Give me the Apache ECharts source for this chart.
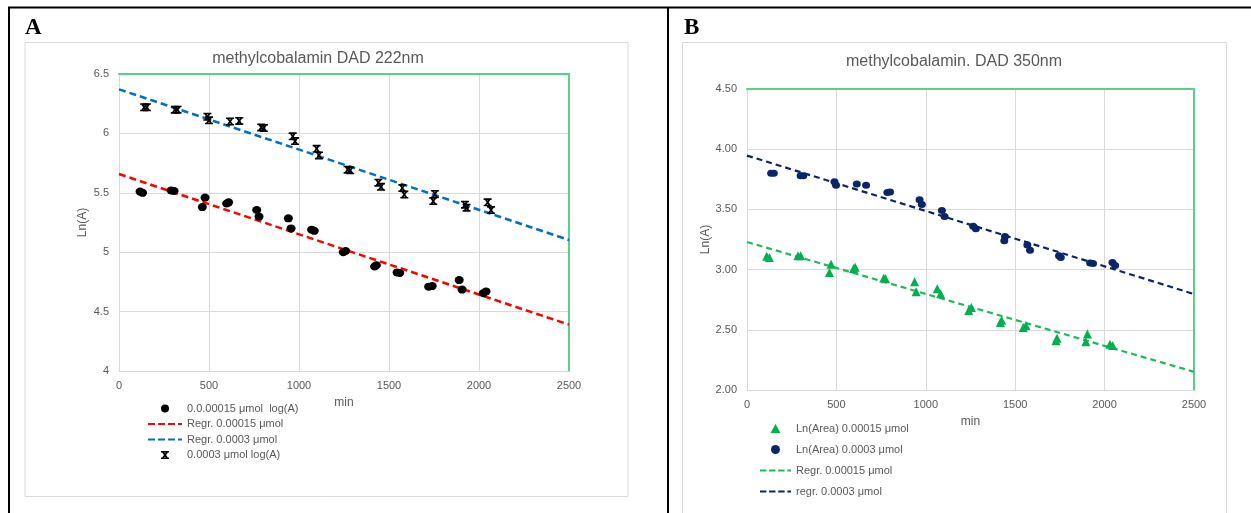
<!DOCTYPE html>
<html>
<head>
<meta charset="utf-8">
<title>methylcobalamin</title>
<script src="https://cdn.jsdelivr.net/npm/echarts@6/dist/echarts.min.js"></script>
<style>
  html, body { margin: 0; padding: 0; background: #fff; }
  #chart { width: 1251px; height: 513px; }
</style>
</head>
<body>
<div id="chart"></div>
<script>
// ---- Panel A: DAD 222 nm ----
const titleA = 'methylcobalamin DAD 222nm';
const legendA = ['0.0.00015 μmol  log(A)', 'Regr. 0.00015 μmol', 'Regr. 0.0003 μmol', '0.0003 μmol log(A)'];
const dotsA015 = [
  [117, 5.51], [131, 5.50], [290, 5.52], [306, 5.515], [478, 5.46], [463, 5.38],
  [598, 5.41], [609, 5.42], [765, 5.355], [778, 5.30], [941, 5.285], [956, 5.20],
  [1070, 5.19], [1085, 5.18], [1246, 5.00], [1259, 5.01], [1420, 4.88], [1430, 4.89],
  [1545, 4.83], [1560, 4.825], [1720, 4.71], [1740, 4.715], [1890, 4.765], [1906, 4.685],
  [2024, 4.655], [2039, 4.67]
];
const crossA03 = [
  [140, 6.22], [155, 6.22], [310, 6.20], [325, 6.20], [491, 6.14], [500, 6.11],
  [617, 6.10], [668, 6.105], [790, 6.05], [805, 6.045], [965, 5.975], [978, 5.935],
  [1098, 5.87], [1111, 5.815], [1270, 5.695], [1285, 5.69], [1441, 5.585], [1456, 5.55],
  [1574, 5.54], [1585, 5.485], [1755, 5.49], [1746, 5.43], [1922, 5.40], [1931, 5.375],
  [2048, 5.42], [2067, 5.355]
];
const regrA015 = [[0, 5.658], [2500, 4.39]];
const regrA03 = [[0, 6.371], [2500, 5.103]];

// ---- Panel B: DAD 350 nm ----
const titleB = 'methylcobalamin. DAD 350nm';
const legendB = ['Ln(Area) 0.00015 μmol', 'Ln(Area) 0.0003 μmol', 'Regr. 0.00015 μmol', 'regr. 0.0003 μmol'];
const triB015 = [
  [110, 3.11], [125, 3.10], [285, 3.115], [300, 3.115], [470, 3.045], [461, 2.975],
  [596, 3.01], [605, 3.02], [765, 2.93], [775, 2.925], [937, 2.90], [946, 2.815],
  [1064, 2.84], [1083, 2.80], [1240, 2.66], [1255, 2.685], [1424, 2.58], [1417, 2.56],
  [1545, 2.52], [1560, 2.535], [1728, 2.41], [1734, 2.43], [1904, 2.465], [1895, 2.40],
  [2030, 2.38], [2045, 2.37]
];
const dotsB03 = [
  [135, 3.80], [150, 3.80], [300, 3.78], [315, 3.78], [489, 3.73], [498, 3.70],
  [614, 3.71], [666, 3.70], [785, 3.64], [800, 3.645], [965, 3.58], [978, 3.54],
  [1090, 3.49], [1105, 3.44], [1265, 3.36], [1280, 3.34], [1443, 3.275], [1439, 3.24],
  [1568, 3.205], [1583, 3.16], [1745, 3.115], [1755, 3.10], [1919, 3.055], [1935, 3.05],
  [2044, 3.06], [2059, 3.035]
];
const regrB015 = [[0, 3.229], [2500, 2.151]];
const regrB03 = [[0, 3.947], [2500, 2.797]];

const xTicks = { min: 0, max: 2500, interval: 500 };

const GRAY_TEXT = '#595959';
const GRID_LINE = '#d9d9d9';
const FRAME_GREEN = '#5ccf8b';
const FONT = '"Liberation Sans", Arial, sans-serif';

const C_RED = '#ff0000';
const C_BLUE = '#0070c0';
const C_BLACK = '#000000';
const C_GREEN_MARK = '#00b050';
const C_GREEN_LINE = '#1fb85a';
const C_NAVY = '#0b2566';

// Star marker: a heavy X closed by short bars at top and bottom
const starPath = 'path://M0,0 H10 V2 H0 Z M0,8 H10 V10 H0 Z ' +
  'M0.3,0.3 L3,0.3 L9.7,9.7 L7,9.7 Z M7,0.3 L9.7,0.3 L3,9.7 L0.3,9.7 Z';
const triPath = 'path://M5,0 L10,9 L0,9 Z';
// Dashed-line legend swatch
const dashPath = 'path://M0,0 H7 V2.2 H0 Z M10,0 H17 V2.2 H10 Z M20,0 H27 V2.2 H20 Z M30,0 H34 V2.2 H30 Z';

function mainX(gridIndex, nameGap) {
  return {
    type: 'value', gridIndex, min: xTicks.min, max: xTicks.max, interval: xTicks.interval,
    name: 'min', nameLocation: 'middle', nameGap,
    nameTextStyle: { color: GRAY_TEXT, fontSize: 12, fontFamily: FONT },
    axisLine: { show: true, lineStyle: { color: GRID_LINE, width: 1 } },
    axisTick: { show: false },
    axisLabel: { color: GRAY_TEXT, fontSize: 11, fontFamily: FONT, margin: 9, formatter: v => String(v) },
    splitLine: { show: true, lineStyle: { color: GRID_LINE, width: 1 } }
  };
}
function mainY(gridIndex, min, max, nameGap, fmt) {
  return {
    type: 'value', gridIndex, min, max, interval: 0.5,
    name: 'Ln(A)', nameLocation: 'middle', nameGap, nameRotate: 90,
    nameTextStyle: { color: GRAY_TEXT, fontSize: 12, fontFamily: FONT },
    axisLine: { show: true, lineStyle: { color: GRID_LINE, width: 1 } },
    axisTick: { show: false },
    axisLabel: { color: GRAY_TEXT, fontSize: 11, fontFamily: FONT, margin: 10, formatter: fmt },
    splitLine: { show: true, lineStyle: { color: GRID_LINE, width: 1 } }
  };
}
function edgeX(gridIndex) {
  return {
    type: 'value', gridIndex, position: 'top', min: xTicks.min, max: xTicks.max,
    axisLine: { show: true, onZero: false, lineStyle: { color: FRAME_GREEN, width: 2 } },
    axisTick: { show: false }, axisLabel: { show: false }, splitLine: { show: false }
  };
}
function edgeY(gridIndex, min, max) {
  return {
    type: 'value', gridIndex, position: 'right', min, max,
    axisLine: { show: true, onZero: false, lineStyle: { color: FRAME_GREEN, width: 2 } },
    axisTick: { show: false }, axisLabel: { show: false }, splitLine: { show: false }
  };
}

const chart = echarts.init(document.getElementById('chart'), null, { renderer: 'canvas' });

const option = {
  animation: false,
  backgroundColor: '#fff',
  textStyle: { fontFamily: FONT },
  grid: [
    { left: 119, top: 74, width: 450, height: 297 },
    { left: 747, top: 89, width: 447, height: 301 }
  ],
  xAxis: [mainX(0, 26), edgeX(0), mainX(1, 26), edgeX(1)],
  yAxis: [
    mainY(0, 4, 6.5, 30, v => String(v)),
    edgeY(0, 4, 6.5),
    mainY(1, 2, 4.5, 34, v => v.toFixed(2)),
    edgeY(1, 2, 4.5)
  ],
  legend: [
    {
      data: [
        { name: legendA[0], icon: 'circle', itemStyle: { color: C_BLACK } },
        { name: legendA[1], icon: dashPath, itemStyle: { color: C_RED } },
        { name: legendA[2], icon: dashPath, itemStyle: { color: C_BLUE } },
        { name: legendA[3], icon: starPath, itemStyle: { color: C_BLACK } }
      ],
      left: 143, top: 398, orient: 'vertical',
      itemWidth: 34, itemHeight: 8, itemGap: 4.5,
      textStyle: { color: GRAY_TEXT, fontSize: 11, fontFamily: FONT }
    },
    {
      data: [
        { name: legendB[0], icon: triPath, itemStyle: { color: C_GREEN_MARK } },
        { name: legendB[1], icon: 'circle', itemStyle: { color: C_NAVY } },
        { name: legendB[2], icon: dashPath, itemStyle: { color: C_GREEN_LINE } },
        { name: legendB[3], icon: dashPath, itemStyle: { color: C_NAVY } }
      ],
      left: 755, top: 418, orient: 'vertical',
      itemWidth: 31, itemHeight: 9, itemGap: 10,
      textStyle: { color: GRAY_TEXT, fontSize: 11, fontFamily: FONT }
    }
  ],
  series: [
    {
      name: legendA[0], type: 'scatter', xAxisIndex: 0, yAxisIndex: 0,
      data: dotsA015, symbol: 'circle', symbolSize: [9, 8],
      itemStyle: { color: C_BLACK, opacity: 1 }, z: 5
    },
    {
      name: legendA[1], type: 'line', xAxisIndex: 0, yAxisIndex: 0,
      data: regrA015, symbol: 'none', showSymbol: false,
      lineStyle: { color: C_RED, width: 2.5, type: [7, 4] },
      itemStyle: { color: C_RED }, z: 3
    },
    {
      name: legendA[2], type: 'line', xAxisIndex: 0, yAxisIndex: 0,
      data: regrA03, symbol: 'none', showSymbol: false,
      lineStyle: { color: C_BLUE, width: 2.5, type: [7, 4] },
      itemStyle: { color: C_BLUE }, z: 3
    },
    {
      name: legendA[3], type: 'scatter', xAxisIndex: 0, yAxisIndex: 0,
      data: crossA03, symbol: starPath, symbolSize: [8, 8],
      itemStyle: { color: C_BLACK, opacity: 1 }, z: 5
    },
    {
      name: legendB[0], type: 'scatter', xAxisIndex: 2, yAxisIndex: 2,
      data: triB015, symbol: triPath, symbolSize: [9, 9],
      itemStyle: { color: C_GREEN_MARK, opacity: 1 }, z: 5
    },
    {
      name: legendB[1], type: 'scatter', xAxisIndex: 2, yAxisIndex: 2,
      data: dotsB03, symbol: 'circle', symbolSize: [8, 7],
      itemStyle: { color: C_NAVY, opacity: 1 }, z: 5
    },
    {
      name: legendB[2], type: 'line', xAxisIndex: 2, yAxisIndex: 2,
      data: regrB015, symbol: 'none', showSymbol: false,
      lineStyle: { color: C_GREEN_LINE, width: 2.2, type: [6, 4] },
      itemStyle: { color: C_GREEN_LINE }, z: 3
    },
    {
      name: legendB[3], type: 'line', xAxisIndex: 2, yAxisIndex: 2,
      data: regrB03, symbol: 'none', showSymbol: false,
      lineStyle: { color: C_NAVY, width: 2.2, type: [6, 4] },
      itemStyle: { color: C_NAVY }, z: 3
    }
  ],
  graphic: [
    // chart frames
    { type: 'rect', shape: { x: 25, y: 42.5, width: 603, height: 454 }, style: { fill: null, stroke: GRID_LINE, lineWidth: 1 }, z: -1, silent: true },
    { type: 'rect', shape: { x: 682.5, y: 42.5, width: 544, height: 520 }, style: { fill: null, stroke: GRID_LINE, lineWidth: 1 }, z: -1, silent: true },
    // panel rules
    { type: 'line', shape: { x1: 8, y1: 7.5, x2: 1251, y2: 7.5 }, style: { stroke: '#000', lineWidth: 2 }, silent: true },
    { type: 'line', shape: { x1: 9, y1: 7, x2: 9, y2: 513 }, style: { stroke: '#000', lineWidth: 2 }, silent: true },
    { type: 'line', shape: { x1: 668, y1: 7, x2: 668, y2: 513 }, style: { stroke: '#000', lineWidth: 2 }, silent: true },
    // panel letters
    { type: 'text', x: 25, y: 17, style: { text: 'A', font: 'bold 23px "Liberation Serif", "Times New Roman", serif', fill: '#000' }, silent: true },
    { type: 'text', x: 684, y: 17, style: { text: 'B', font: 'bold 23px "Liberation Serif", "Times New Roman", serif', fill: '#000' }, silent: true },
    // chart titles
    { type: 'text', x: 318, y: 59, style: { text: titleA, font: '16px "Liberation Sans", Arial, sans-serif', fill: GRAY_TEXT, textAlign: 'center', textVerticalAlign: 'middle' }, silent: true },
    { type: 'text', x: 954, y: 62, style: { text: titleB, font: '16px "Liberation Sans", Arial, sans-serif', fill: GRAY_TEXT, textAlign: 'center', textVerticalAlign: 'middle' }, silent: true }
  ]
};

chart.setOption(option);
</script>
</body>
</html>
